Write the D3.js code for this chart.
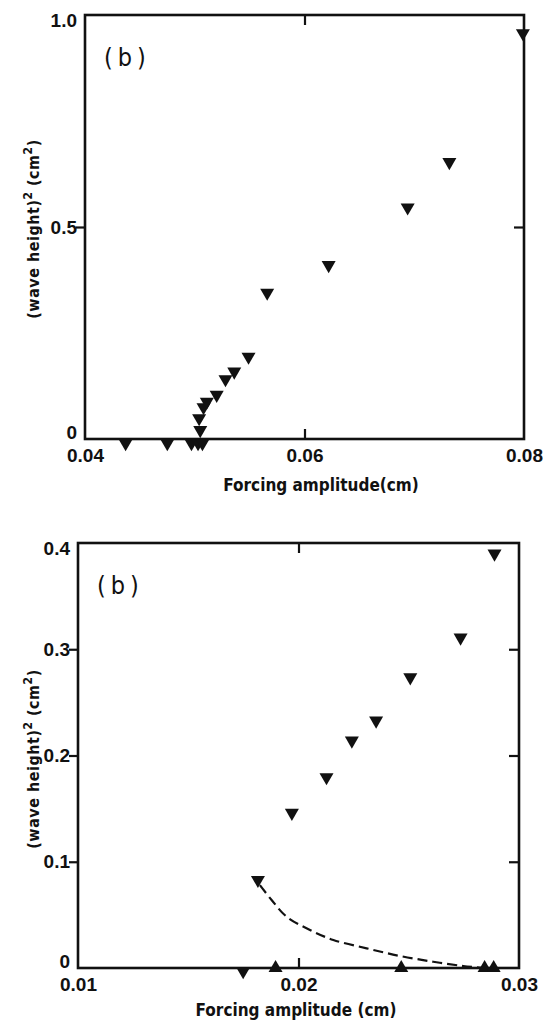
<!DOCTYPE html>
<html>
<head>
<meta charset="utf-8">
<script src="https://cdn.jsdelivr.net/npm/d3@7"></script>
<style>
  body { margin: 0; background: #fff; }
  svg { display: block; }
  text { font-family: "Liberation Sans Narrow", "DejaVu Sans Condensed", sans-serif; fill: #111; }
</style>
</head>
<body>
<div id="plot"></div>
<script>
// ---- data ----
// top panel (all inverted triangles)
var topX = [0.0437, 0.0475, 0.0497, 0.0503, 0.0507, 0.0505, 0.0504, 0.0508, 0.0511, 0.0520, 0.0528, 0.0536, 0.0549, 0.0566, 0.0622, 0.0694, 0.0732, 0.0799];
var topY = [-0.01, -0.01, -0.01, -0.01, -0.01, 0.021, 0.049, 0.075, 0.088, 0.104, 0.141, 0.159, 0.194, 0.345, 0.41, 0.546, 0.653, 0.957];
var topXTicks = [0.04, 0.06, 0.08];
var topXLabels = ["0.04", "0.06", "0.08"];
var topYTicks = [0, 0.5, 1.0];
var topYLabels = ["0", "0.5", "1.0"];

// bottom panel: inverted triangles, upright triangles, dashed branch
var downX = [0.01749, 0.01816, 0.0197, 0.02127, 0.02242, 0.02352, 0.02507, 0.02735, 0.02889];
var downY = [-0.003, 0.0828, 0.146, 0.1795, 0.214, 0.2328, 0.2736, 0.311, 0.39];
var upX = [0.01896, 0.02466, 0.02844, 0.02885];
var upY = [0, 0, 0, 0];
var curveX = [0.01825, 0.01878, 0.01946, 0.02052, 0.02158, 0.02309, 0.0246, 0.02611, 0.02747, 0.02838];
var curveY = [0.078, 0.064, 0.0483, 0.0358, 0.0264, 0.0185, 0.0113, 0.0059, 0.0019, 0];
var botXTicks = [0.01, 0.02, 0.03];
var botXLabels = ["0.01", "0.02", "0.03"];
var botYTicks = [0, 0.1, 0.2, 0.3, 0.4];
var botYLabels = ["0", "0.1", "0.2", "0.3", "0.4"];

var W = 543, H = 1022;
var svg = d3.select("#plot").append("svg")
  .attr("width", W).attr("height", H);

var tri = d3.symbol().type(d3.symbolTriangle).size(85);

function panel(o) {
  var g = svg.append("g");
  var x = d3.scaleLinear().domain(o.xDomain).range([o.left, o.right]);
  var y = d3.scaleLinear().domain(o.yDomain).range([o.bottom, o.top]);
  var xFmt = function(d) { return o.xLabels[o.xTicks.indexOf(d)]; };
  var yFmt = function(d) { return o.yLabels[o.yTicks.indexOf(d)]; };
  var inner = function(arr) { return arr.slice(1, arr.length - 1); };

  // bottom ticks (inward) + labels
  g.append("g").attr("transform", "translate(0," + o.bottom + ")")
    .call(d3.axisBottom(x).tickValues(inner(o.xTicks)).tickSize(-10).tickFormat(""));
  g.append("g").attr("transform", "translate(0," + o.bottom + ")")
    .call(d3.axisBottom(x).tickValues(o.xTicks).tickSize(0).tickPadding(10).tickFormat(xFmt))
    .attr("class", "lab");
  // top ticks (inward)
  g.append("g").attr("transform", "translate(0," + o.top + ")")
    .call(d3.axisTop(x).tickValues(inner(o.xTicks)).tickSize(-10).tickFormat(""));
  // left ticks (outward) + labels
  g.append("g").attr("transform", "translate(" + o.left + ",0)")
    .call(d3.axisLeft(y).tickValues(inner(o.yTicks)).tickSize(9).tickFormat(""));
  var yl = g.append("g").attr("transform", "translate(" + o.left + ",0)")
    .call(d3.axisLeft(y).tickValues(o.yTicks).tickSize(0).tickPadding(8).tickFormat(yFmt))
    .attr("class", "lab");
  // end labels sit a little inside the frame corners
  var y0 = o.yTicks[0], y1 = o.yTicks[o.yTicks.length - 1];
  yl.selectAll(".tick").filter(function(d) { return d === y0; }).select("text").attr("dy", "-0.05em");
  yl.selectAll(".tick").filter(function(d) { return d === y1; }).select("text").attr("dy", "0.62em");
  // right ticks (inward)
  g.append("g").attr("transform", "translate(" + o.right + ",0)")
    .call(d3.axisRight(y).tickValues(inner(o.yTicks)).tickSize(-10).tickFormat(""));

  g.selectAll(".domain").remove();
  g.selectAll(".tick line").attr("stroke", "#111").attr("stroke-width", 2.2);
  g.selectAll(".lab text")
    .style("font-size", "19px")
    .style("font-weight", "bold")
    .style("font-family", "'Liberation Sans Narrow', sans-serif")
    .attr("fill", "#111");

  // frame
  g.append("rect")
    .attr("x", o.left).attr("y", o.top)
    .attr("width", o.right - o.left).attr("height", o.bottom - o.top)
    .attr("fill", "none").attr("stroke", "#111").attr("stroke-width", 2.6);

  // axis titles
  g.append("text")
    .attr("x", o.xTitleX).attr("y", o.xTitleY)
    .attr("text-anchor", "middle")
    .style("font-size", "17px").style("font-weight", "bold")
    .text(o.xTitle);

  var yt = g.append("text")
    .attr("transform", "translate(" + o.yTitleX + "," + o.yTitleY + ") rotate(-90)")
    .attr("text-anchor", "middle")
    .style("font-family", "'DejaVu Sans Condensed', sans-serif")
    .style("font-size", "16px").style("font-weight", "bold")
    .style("letter-spacing", "0.5px");
  yt.append("tspan").text("(wave height)");
  yt.append("tspan").attr("dy", -7).style("font-size", "12px").text("2");
  yt.append("tspan").attr("dy", 7).text(" (cm");
  yt.append("tspan").attr("dy", -7).style("font-size", "12px").text("2");
  yt.append("tspan").attr("dy", 7).text(")");

  // panel tag
  g.append("text")
    .attr("x", o.left + 19).attr("y", o.top + 51)
    .style("font-size", "25px")
    .style("letter-spacing", "5px")
    .style("font-family", "'DejaVu Sans Condensed', sans-serif")
    .text("(b)");

  return { g: g, x: x, y: y };
}

// ---------- top panel ----------
var p1 = panel({
  left: 85, right: 524, top: 15, bottom: 439,
  xDomain: [0.04, 0.08], yDomain: [0, 1],
  xTicks: topXTicks, xLabels: topXLabels,
  yTicks: topYTicks, yLabels: topYLabels,
  xTitle: "Forcing amplitude(cm)", xTitleX: 321, xTitleY: 491,
  yTitleX: 39, yTitleY: 229
});

p1.g.append("g").selectAll("path")
  .data(d3.range(topX.length))
  .enter().append("path")
  .attr("d", tri)
  .attr("transform", function(i) { return "translate(" + p1.x(topX[i]) + "," + p1.y(topY[i]) + ") rotate(180)"; })
  .attr("fill", "#111");

// ---------- bottom panel ----------
var p2 = panel({
  left: 78, right: 519, top: 543, bottom: 968,
  xDomain: [0.01, 0.03], yDomain: [0, 0.4],
  xTicks: botXTicks, xLabels: botXLabels,
  yTicks: botYTicks, yLabels: botYLabels,
  xTitle: "Forcing amplitude (cm)", xTitleX: 296, xTitleY: 1016,
  yTitleX: 39, yTitleY: 759
});

// dashed branch
var line = d3.line()
  .x(function(i) { return p2.x(curveX[i]); })
  .y(function(i) { return p2.y(curveY[i]); })
  .curve(d3.curveCatmullRom);

p2.g.append("path")
  .datum(d3.range(curveX.length))
  .attr("d", line)
  .attr("fill", "none")
  .attr("stroke", "#111")
  .attr("stroke-width", 2.2)
  .attr("stroke-dasharray", "10,5");

p2.g.append("g").selectAll("path")
  .data(d3.range(downX.length))
  .enter().append("path")
  .attr("d", tri)
  .attr("transform", function(i) { return "translate(" + p2.x(downX[i]) + "," + p2.y(downY[i]) + ") rotate(180)"; })
  .attr("fill", "#111");

p2.g.append("g").selectAll("path")
  .data(d3.range(upX.length))
  .enter().append("path")
  .attr("d", tri)
  .attr("transform", function(i) { return "translate(" + p2.x(upX[i]) + "," + p2.y(upY[i]) + ")"; })
  .attr("fill", "#111");
</script>
</body>
</html>
